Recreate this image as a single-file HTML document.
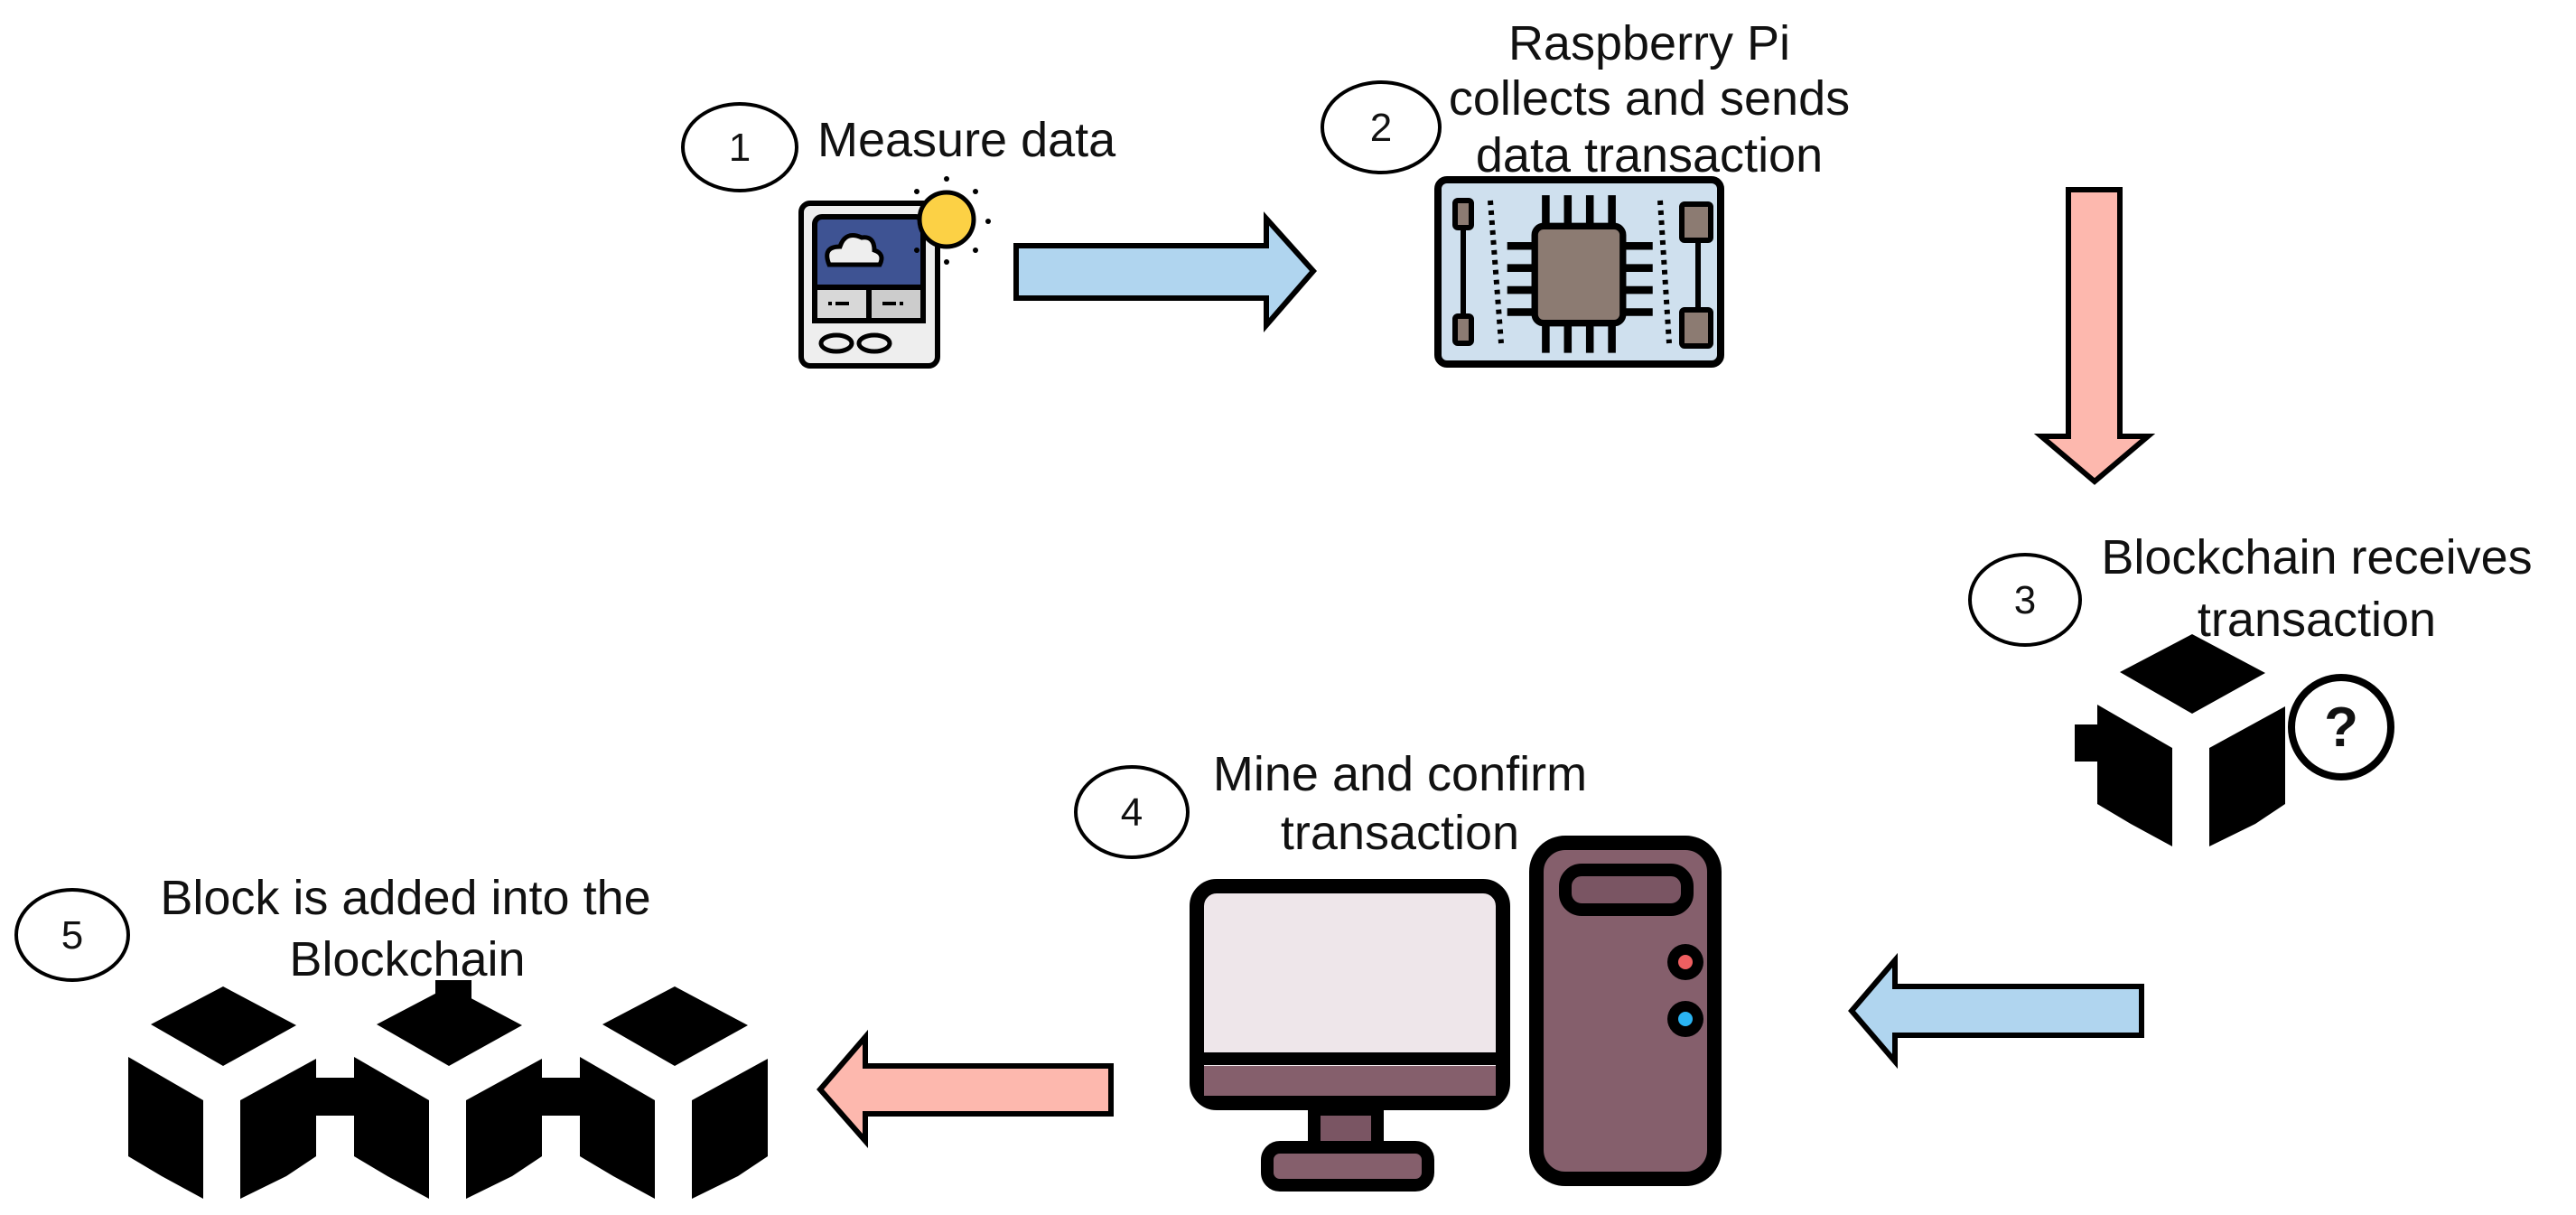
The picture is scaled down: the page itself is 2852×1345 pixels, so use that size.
<!DOCTYPE html>
<html><head><meta charset="utf-8"><style>
html,body{margin:0;padding:0;background:#fff;}
svg{display:block;}
text{font-family:"Liberation Sans",sans-serif;fill:#111;}
</style></head><body>
<svg width="2852" height="1345" viewBox="0 0 2852 1345" xmlns="http://www.w3.org/2000/svg">
<defs>
<g id="cube">
  <polygon points="80,0 161,43 80,88 0,42" fill="#000"/>
  <polygon points="-25,78 58,126 58,235 12,210 -25,188" fill="#000"/>
  <polygon points="99,126 183,80 183,188 150,210 99,235" fill="#000"/>
</g>
</defs>
<g fill="none" stroke="#000" stroke-width="4">
<ellipse cx="819" cy="163" rx="63" ry="48"/>
<ellipse cx="1529" cy="141" rx="65" ry="50"/>
<ellipse cx="2242" cy="664" rx="61" ry="50"/>
<ellipse cx="1253" cy="899" rx="62" ry="50"/>
<ellipse cx="80" cy="1035" rx="62" ry="50"/>
</g>
<g font-size="44" text-anchor="middle" style="font-family:'DejaVu Sans',sans-serif;font-weight:200">
<text x="819" y="178">1</text>
<text x="1529" y="156">2</text>
<text x="2242" y="679">3</text>
<text x="1253" y="914">4</text>
<text x="80" y="1050">5</text>
</g>
<g font-size="54">
<text x="905" y="173">Measure data</text>
<text x="1826" y="66" text-anchor="middle">Raspberry Pi</text>
<text x="1826" y="127" text-anchor="middle">collects and sends</text>
<text x="1826" y="190" text-anchor="middle">data transaction</text>
<text x="2565" y="635" text-anchor="middle">Blockchain receives</text>
<text x="2565" y="704" text-anchor="middle">transaction</text>
<text x="1550" y="875" text-anchor="middle">Mine and confirm</text>
<text x="1550" y="940" text-anchor="middle">transaction</text>
<text x="449" y="1012" text-anchor="middle">Block is added into the</text>
<text x="451" y="1080" text-anchor="middle">Blockchain</text>
</g>
<!-- arrows -->
<g stroke="#000" stroke-width="6" stroke-linejoin="miter">
<polygon points="1125,272 1402,272 1402,242 1454,300 1402,360 1402,330 1125,330" fill="#b0d5ef"/>
<polygon points="2290,210 2347,210 2347,483 2378,483 2319,533 2260,483 2290,483" fill="#fdb8ae"/>
<polygon points="2371,1092 2098,1092 2098,1063 2050,1119 2098,1175 2098,1146 2371,1146" fill="#b0d5ef"/>
<polygon points="1230,1180 958,1180 958,1148 908,1206 958,1263 958,1233 1230,1233" fill="#fdb8ae"/>
</g>
<!-- thermostat -->
<g stroke="#000" stroke-width="6">
<rect x="887" y="225" width="151" height="180" rx="10" fill="#eeeeee"/>
<rect x="902" y="240" width="120" height="112" rx="8" fill="#3e5393"/>
<rect x="902" y="318" width="60" height="37" fill="#d8d8d8"/>
<rect x="962" y="318" width="60" height="37" fill="#cccccc"/>
<path d="M918,293 q-8,-20 12,-20 q6,-18 24,-10 q14,-2 14,14 q12,4 6,16 z" fill="#eeeeee" stroke-width="5"/>
<ellipse cx="926" cy="380" rx="17" ry="9" fill="#eee" stroke-width="5"/>
<ellipse cx="968" cy="380" rx="17" ry="9" fill="#eee" stroke-width="5"/>
<circle cx="1048" cy="243" r="30" fill="#fcd145" stroke-width="5"/>
</g>
<g fill="#000">
<rect x="917" y="334" width="4" height="4"/><rect x="925" y="334" width="15" height="4"/>
<rect x="977" y="334" width="15" height="4"/><rect x="996" y="334" width="4" height="4"/>
<circle cx="1048" cy="198" r="3"/><circle cx="1048" cy="290" r="3"/>
<circle cx="1094" cy="245" r="3"/><circle cx="1080" cy="212" r="3"/><circle cx="1080" cy="277" r="3"/>
<circle cx="1015" cy="212" r="3"/><circle cx="1015" cy="277" r="3"/>
</g>
<!-- raspberry board -->
<g stroke="#000" stroke-width="8">
<rect x="1592" y="199" width="313" height="204" rx="10" fill="#cfe0ee"/>
</g>
<g stroke="#000" stroke-width="6" fill="#8c7b72">
<line x1="1620" y1="230" x2="1620" y2="370"/>
<rect x="1611" y="222" width="18" height="30" rx="3"/>
<rect x="1611" y="350" width="18" height="30" rx="3"/>
<line x1="1880" y1="230" x2="1880" y2="370"/>
<rect x="1862" y="226" width="32" height="40" rx="3"/>
<rect x="1862" y="343" width="32" height="40" rx="3"/>
<g transform="translate(1748,304) scale(1.22) translate(-1748,-304)">
<g stroke-width="7">
<line x1="1718" y1="232" x2="1718" y2="262"/><line x1="1738" y1="232" x2="1738" y2="262"/><line x1="1758" y1="232" x2="1758" y2="262"/><line x1="1778" y1="232" x2="1778" y2="262"/>
<line x1="1718" y1="345" x2="1718" y2="375"/><line x1="1738" y1="345" x2="1738" y2="375"/><line x1="1758" y1="345" x2="1758" y2="375"/><line x1="1778" y1="345" x2="1778" y2="375"/>
<line x1="1683" y1="278" x2="1712" y2="278"/><line x1="1683" y1="298" x2="1712" y2="298"/><line x1="1683" y1="318" x2="1712" y2="318"/><line x1="1683" y1="338" x2="1712" y2="338"/>
<line x1="1785" y1="278" x2="1815" y2="278"/><line x1="1785" y1="298" x2="1815" y2="298"/><line x1="1785" y1="318" x2="1815" y2="318"/><line x1="1785" y1="338" x2="1815" y2="338"/>
</g>
<rect x="1708" y="260" width="80" height="88" rx="8"/>
</g>
<line x1="1650" y1="222" x2="1662" y2="380" stroke-dasharray="5,6" stroke-width="6"/>
<line x1="1838" y1="222" x2="1848" y2="380" stroke-dasharray="5,6" stroke-width="6"/>
</g>
<!-- computer -->
<g stroke="#000" stroke-width="16">
<rect x="1325" y="981" width="339" height="240" rx="22" fill="#eee6ea"/>
<rect x="1701" y="933" width="197" height="372" rx="32" fill="#855f6c"/>
</g>
<rect x="1333" y="1180" width="323" height="33" fill="#855f6c"/>
<line x1="1325" y1="1172" x2="1664" y2="1172" stroke="#000" stroke-width="14"/>
<rect x="1455" y="1228" width="70" height="42" fill="#7a5563" stroke="#000" stroke-width="14"/>
<rect x="1403" y="1270" width="178" height="42" rx="14" fill="#855f6c" stroke="#000" stroke-width="14"/>
<rect x="1733" y="963" width="135" height="44" rx="18" fill="#7a5563" stroke="#000" stroke-width="14"/>
<circle cx="1866" cy="1065" r="20" fill="#000"/><circle cx="1866" cy="1065" r="8" fill="#ef5f61"/>
<circle cx="1866" cy="1128" r="20" fill="#000"/><circle cx="1866" cy="1128" r="8" fill="#2ab4f3"/>
<!-- blockchain receives cube -->
<g transform="translate(2347,702)"><use href="#cube"/></g>
<rect x="2297" y="802" width="30" height="41" fill="#000"/>
<circle cx="2592" cy="805" r="55" fill="#fff" stroke="#000" stroke-width="8"/>
<text x="2592" y="826" font-size="62" font-weight="bold" text-anchor="middle">?</text>
<!-- blockchain -->
<g transform="translate(167,1092)"><use href="#cube"/></g>
<g transform="translate(417,1092)"><use href="#cube"/></g>
<g transform="translate(667,1092)"><use href="#cube"/></g>
<rect x="348" y="1193" width="50" height="42" fill="#000"/>
<rect x="598" y="1193" width="50" height="42" fill="#000"/>
<rect x="482" y="1085" width="40" height="24" fill="#000"/>
</svg>
</body></html>
